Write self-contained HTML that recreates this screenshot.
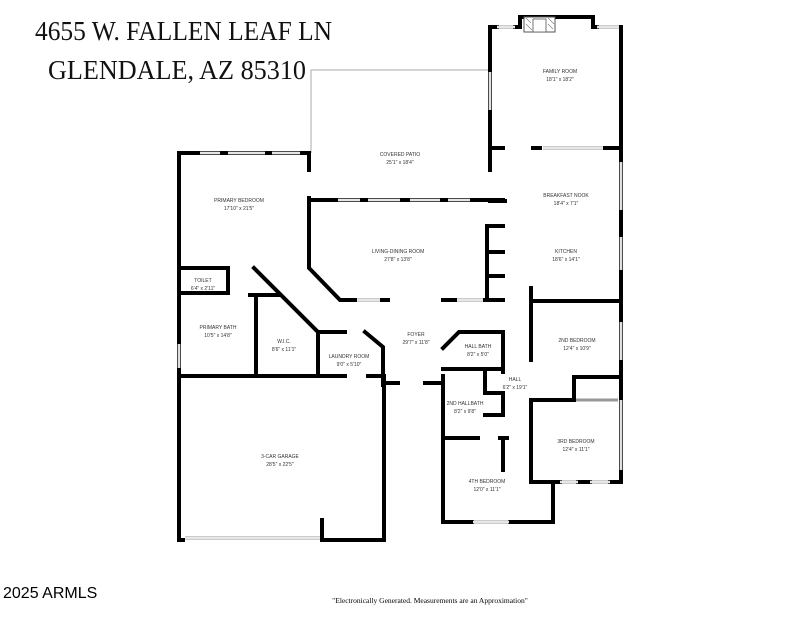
<!DOCTYPE html>
<html><head><meta charset="utf-8"><style>
html,body{margin:0;padding:0;background:#fff;width:800px;height:618px;overflow:hidden}
svg{display:block}
.w{stroke:#000;stroke-width:4;fill:none;stroke-linecap:square}
.win{stroke:#999;stroke-width:3;fill:none}
.wi{stroke:#fff;stroke-width:1.4;fill:none}
.t{stroke:#aaa;stroke-width:1;fill:none}
.l{font-family:"Liberation Sans",sans-serif;font-size:5px;fill:#333;text-anchor:middle}
.h{font-family:"Liberation Serif",serif;font-size:27px;fill:#111}
</style></head><body>
<svg width="800" height="618" viewBox="0 0 800 618">
<text class="h" x="35" y="40" textLength="297" lengthAdjust="spacingAndGlyphs">4655 W. FALLEN LEAF LN</text>
<text class="h" x="48" y="79" textLength="258" lengthAdjust="spacingAndGlyphs">GLENDALE, AZ 85310</text>
<!-- patio outline -->
<path class="t" d="M311,153 V70 H489"/>
<g class="w">
<!-- primary bedroom -->
<path d="M179,153 H309 V170"/>
<path d="M309,198 V268 L340,300 H355"/>
<path d="M179,153 V540 H183"/>
<path d="M309,200 H503"/>
<path d="M382,300 H388 M443,300 H455 M485,300 H503"/>
<!-- kitchen cabinets -->
<path d="M503,226 H487 V300 M487,252 H503 M487,276 H503"/>
<!-- family room -->
<path d="M490,170 V27 H497 M515,27 H520 V17 H593 V27 H597 M621,27 V482"/>
<path d="M490,148 H503 M533,148 H540 M605,148 H621"/>
<path d="M490,201 H505"/>
<!-- kitchen / bedrooms -->
<path d="M531,288 V360 M531,400 V482 H560 M578,482 H590 M610,482 H621"/>
<path d="M531,301 H621"/>
<path d="M531,400 H574 V377 H621"/>
<!-- hall, baths, 4th bed -->
<path d="M443,376 V522 H472 M510,522 H553 V482"/>
<path d="M443,348 L459,332 H503 V372"/>
<path d="M443,369 H503 M485,369 V393 H503 V415 H485"/>
<path d="M443,438 H478 M500,438 H507 M503,440 V470"/>
<!-- left side -->
<path d="M179,268 H228 V293 H179"/>
<path d="M254,268 L318,332"/>
<path d="M250,295 H278 M256,295 V376"/>
<path d="M318,332 H345 M365,332 L383,347 V385 M383,383 H398 M425,383 H443"/>
<path d="M318,332 V376"/>
<path d="M179,376 H345 M368,376 H384 V540 H322 V520"/>
</g>
<!-- windows -->
<g class="win">
<path d="M200,153 H220 M228,153 H265 M272,153 H300"/>
<path d="M338,200 H360 M368,200 H400 M410,200 H440 M448,200 H470"/>
<path d="M357,300 H380 M457,300 H483"/>
<path d="M490,72 V110 M497,27 H515 M597,27 H619 M543,148 H603"/>
<path d="M621,162 V210 M621,237 V270 M621,322 V360 M621,400 V470 M618,400 H576"/>
<path d="M560,482 H578 M590,482 H610 M473,522 H509 M185,538 H320 M179,344 V368"/>
</g>
<g class="wi">
<path d="M200,153 H220 M228,153 H265 M272,153 H300 M338,200 H360 M368,200 H400 M410,200 H440 M448,200 H470 M357,300 H380 M457,300 H483 M490,72 V110 M497,27 H515 M597,27 H619 M543,148 H603 M621,162 V210 M621,237 V270 M621,322 V360 M621,400 V470 M560,482 H578 M590,482 H610 M473,522 H509 M185,538 H320 M179,344 V368"/>
</g>
<!-- fireplace -->
<rect x="524" y="17" width="31" height="15" fill="#fff" stroke="#555" stroke-width="1"/>
<rect x="533" y="19" width="13" height="13" fill="#fff" stroke="#555" stroke-width="0.8"/>
<path d="M526,18 l5,5 M526,24 l6,6 M548,18 l6,6 M548,24 l5,5" stroke="#777" stroke-width="0.6"/>
<!-- labels -->
<text class="l" x="560" y="73">FAMILY ROOM</text><text class="l" x="560" y="81">18'1" x 18'2"</text>
<text class="l" x="400" y="156">COVERED PATIO</text><text class="l" x="400" y="164">25'1" x 18'4"</text>
<text class="l" x="239" y="202">PRIMARY BEDROOM</text><text class="l" x="239" y="210">17'10" x 21'5"</text>
<text class="l" x="566" y="197">BREAKFAST NOOK</text><text class="l" x="566" y="205">18'4" x 7'1"</text>
<text class="l" x="398" y="253">LIVING-DINING ROOM</text><text class="l" x="398" y="261">27'8" x 13'8"</text>
<text class="l" x="566" y="253">KITCHEN</text><text class="l" x="566" y="261">18'6" x 14'1"</text>
<text class="l" x="203" y="282">TOILET</text><text class="l" x="203" y="290">6'4" x 2'11"</text>
<text class="l" x="218" y="329">PRIMARY BATH</text><text class="l" x="218" y="337">10'5" x 14'8"</text>
<text class="l" x="284" y="343">W.I.C.</text><text class="l" x="284" y="351">8'6" x 11'1"</text>
<text class="l" x="416" y="336">FOYER</text><text class="l" x="416" y="344">29'7" x 11'8"</text>
<text class="l" x="349" y="358">LAUNDRY ROOM</text><text class="l" x="349" y="366">9'0" x 5'10"</text>
<text class="l" x="478" y="348">HALL BATH</text><text class="l" x="478" y="356">8'2" x 5'0"</text>
<text class="l" x="577" y="342">2ND BEDROOM</text><text class="l" x="577" y="350">12'4" x 10'9"</text>
<text class="l" x="515" y="381">HALL</text><text class="l" x="515" y="389">6'2" x 19'1"</text>
<text class="l" x="465" y="405">2ND HALLBATH</text><text class="l" x="465" y="413">8'2" x 9'8"</text>
<text class="l" x="576" y="443">3RD BEDROOM</text><text class="l" x="576" y="451">12'4" x 11'1"</text>
<text class="l" x="280" y="458">3-CAR GARAGE</text><text class="l" x="280" y="466">28'5" x 22'5"</text>
<text class="l" x="487" y="483">4TH BEDROOM</text><text class="l" x="487" y="491">12'0" x 11'1"</text>
<text x="3" y="598" style="font-family:'Liberation Sans',sans-serif;font-size:16px;fill:#000">2025 ARMLS</text>
<text x="430" y="603" style="font-family:'Liberation Serif',serif;font-size:7.5px;fill:#000;text-anchor:middle">"Electronically Generated.  Measurements are an Approximation"</text>
</svg>
</body></html>
